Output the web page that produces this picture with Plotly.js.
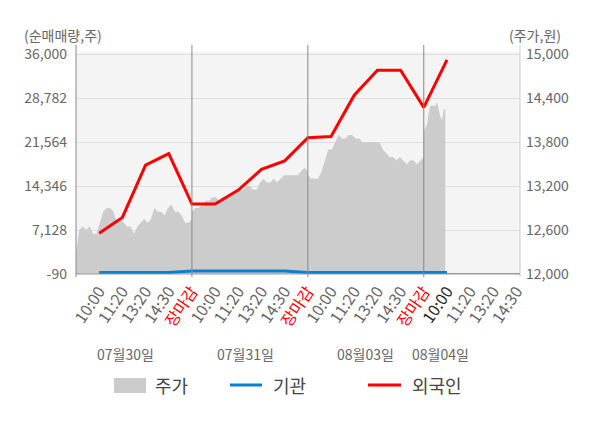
<!DOCTYPE html>
<html>
<head>
<meta charset="utf-8">
<script src="https://cdn.plot.ly/plotly-3.0.1.min.js"></script>
<style>
	html, body { margin: 0; padding: 0; background: #fff; }
</style>
</head>
<body>
<div id="chart" style="width:600px;height:428px"></div>
<script>
// x axis: one slot per tick label
const tickLabels = ['10:00', '11:20', '13:20', '14:30', '장마감',
	'10:00', '11:20', '13:20', '14:30', '장마감',
	'10:00', '11:20', '13:20', '14:30', '장마감',
	'10:00', '11:20', '13:20', '14:30'];
const dayLabels = ['07월30일', '07월31일', '08월03일', '08월04일'];

// 순매매량 (shares) at each tick, up to 08/04 10:00
const foreign = [6600, 9200, 17800, 19700, 11400,
	11400, 13700, 17100, 18500, 22300,
	22500, 29300, 33400, 33400, 27300,
	35100];
const institution = [150, 150, 150, 150, 400,
	400, 400, 400, 400, 150,
	150, 150, 150, 150, 150,
	150];

// intraday price (won), one array per day
const price0730 = [12300, 12600, 12650, 12600, 12650, 12550, 12550, 12700, 12850, 12900, 12900, 12850,
	12700, 12750, 12700, 12650, 12650, 12550, 12650, 12700, 12750, 12700, 12750, 12900, 12850, 12850,
	12800, 12900, 12950, 12850, 12850, 12800, 12700, 12700, 12750];
const price0731 = [12850, 12900, 12900, 12950, 13000, 13000, 13050, 13050, 13000, 13050, 13050, 13100,
	13100, 13100, 13150, 13150, 13200, 13200, 13150, 13150, 13250, 13300, 13250, 13250, 13300, 13250,
	13300, 13350, 13350, 13350, 13350, 13350, 13400, 13450, 13400];
const price0803 = [13350, 13300, 13300, 13300, 13400, 13550, 13700, 13700, 13800, 13900, 13850, 13850,
	13900, 13900, 13850, 13850, 13800, 13800, 13800, 13800, 13800, 13800, 13700, 13650, 13600, 13600,
	13550, 13600, 13550, 13500, 13550, 13550, 13500, 13550, 13600];
const price0804 = [13950, 14000, 14050, 14200, 14300, 14300, 14300, 14300, 14350, 14250, 14150, 14100,
	14250, 14250];

// axis ticks
const leftTicks = [-90, 7128, 14346, 21564, 28782, 36000];
const leftTickText = ['-90', '7,128', '14,346', '21,564', '28,782', '36,000'];
const rightTicks = [12000, 12600, 13200, 13800, 14400, 15000];
const rightTickText = ['12,000', '12,600', '13,200', '13,800', '14,400', '15,000'];

const FONT = '"Noto Sans CJK KR", "Noto Sans", sans-serif';
const GRAY = '#666';

// plot area in pixels (for paper positions)
const L = 76, R = 520, T = 52, B = 274;
const px = (x) => (x - L) / (R - L);
const py = (y) => (B - y) / (B - T);

// each day starts at the previous close slot
const days = [price0730, price0731, price0803, price0804];
const daySpan = [5, 5, 5, 0.93];
var priceX = [], priceY = [];
days.forEach((d, k) => {
	var start = k * 5 - 1;
	for (var i = 0; i < d.length; i++) {
		priceX.push(start + i * daySpan[k] / (d.length - 1));
		priceY.push(d[i]);
	}
});

const tickIdx = tickLabels.map((t, i) => i);
const tickText = tickLabels.map((t, i) => {
	if (t == '장마감') return '<span style="color:#ff0000">' + t + '</span>';
	if (i == 15) return '<span style="color:#222">' + t + '</span>';
	return t;
});
const lineX = foreign.map((v, i) => i);

// price sits on the base (right) axis so the lines on y2 draw over it
var traces = [
	{
		x: priceX, y: priceY, yaxis: 'y', type: 'scatter', mode: 'lines',
		line: { width: 0, color: '#cccccc' }, fill: 'tozeroy', fillcolor: '#cccccc',
		name: '주가', hoverinfo: 'skip'
	},
	{
		x: lineX, y: institution, yaxis: 'y2', type: 'scatter', mode: 'lines',
		line: { width: 3, color: '#0b7fcf' }, name: '기관'
	},
	{
		x: lineX, y: foreign, yaxis: 'y2', type: 'scatter', mode: 'lines',
		line: { width: 3, color: '#ff0000' }, name: '외국인'
	}
];

// day separators + axis frame
var shapes = [4, 9, 14].map((v) => ({
	type: 'line', xref: 'x', yref: 'paper', x0: v, x1: v, y0: py(277), y1: py(45),
	line: { color: '#888', width: 1 }
}));
shapes.push({ type: 'line', xref: 'paper', yref: 'paper', x0: 0, x1: 0, y0: py(277), y1: py(45), line: { color: '#888', width: 1 } });
shapes.push({ type: 'line', xref: 'paper', yref: 'paper', x0: 1, x1: 1, y0: py(277), y1: py(45), line: { color: '#ccc', width: 1 } });
shapes.push({ type: 'line', xref: 'paper', yref: 'paper', x0: 0, x1: 1, y0: 0, y1: 0, line: { color: '#999', width: 1 } });

// legend drawn by hand
shapes.push({ type: 'rect', xref: 'paper', yref: 'paper', x0: px(114), x1: px(146), y0: py(378), y1: py(393), fillcolor: '#cccccc', line: { width: 0 } });
shapes.push({ type: 'line', xref: 'paper', yref: 'paper', x0: px(230), x1: px(262), y0: py(385), y1: py(385), line: { color: '#0b7fcf', width: 3 } });
shapes.push({ type: 'line', xref: 'paper', yref: 'paper', x0: px(368), x1: px(401), y0: py(385), y1: py(385), line: { color: '#ff0000', width: 3 } });

var annotations = [];
var legendText = [['주가', 153], ['기관', 271], ['외국인', 410]];
legendText.forEach((l) => annotations.push({
	text: l[0], xref: 'paper', yref: 'paper', x: px(l[1]), y: py(385), xanchor: 'left', yanchor: 'middle',
	showarrow: false, font: { family: FONT, size: 18, color: '#444' }
}));
var dayPos = [125, 245, 365, 440];
dayLabels.forEach((d, i) => annotations.push({
	text: d, xref: 'paper', yref: 'paper', x: px(dayPos[i]), y: py(354), xanchor: 'center', yanchor: 'middle',
	showarrow: false, font: { family: FONT, size: 14, color: GRAY }
}));
annotations.push({
	text: '(순매매량,주)', xref: 'paper', yref: 'paper', x: px(22), y: py(35), xanchor: 'left', yanchor: 'middle',
	showarrow: false, font: { family: FONT, size: 14, color: GRAY }
});
annotations.push({
	text: '(주가,원)', xref: 'paper', yref: 'paper', x: px(563), y: py(35), xanchor: 'right', yanchor: 'middle',
	showarrow: false, font: { family: FONT, size: 14, color: GRAY }
});

var layout = {
	width: 600, height: 428,
	margin: { l: L, r: 600 - R, t: T, b: 428 - B, pad: 0 },
	paper_bgcolor: '#ffffff', plot_bgcolor: '#f4f4f4',
	font: { family: FONT, size: 14, color: GRAY },
	showlegend: false,
	xaxis: {
		range: [-1, 18.15], tickvals: tickIdx, ticktext: tickText, tickangle: -56,
		showgrid: false, zeroline: false, showline: false, ticks: '', ticklabelstandoff: 4,
		tickfont: { family: FONT, size: 16, color: GRAY }, automargin: false
	},
	yaxis: {
		range: [12000, 15033], side: 'right',
		tickvals: rightTicks, ticktext: rightTickText,
		showgrid: false, zeroline: false, showline: false, ticks: '', ticklabelstandoff: 5,
		tickfont: { family: FONT, size: 14, color: GRAY }, automargin: false
	},
	yaxis2: {
		range: [-90, 36394], overlaying: 'y', side: 'left',
		tickvals: leftTicks, ticktext: leftTickText,
		showgrid: true, gridcolor: '#dedede', gridwidth: 1,
		zeroline: true, zerolinecolor: '#999', zerolinewidth: 1,
		showline: false, ticks: '', ticklabelstandoff: 8,
		tickfont: { family: FONT, size: 14, color: GRAY }, automargin: false
	},
	shapes: shapes,
	annotations: annotations
};

Plotly.newPlot('chart', traces, layout, { staticPlot: true, displayModeBar: false });
</script>
</body>
</html>
